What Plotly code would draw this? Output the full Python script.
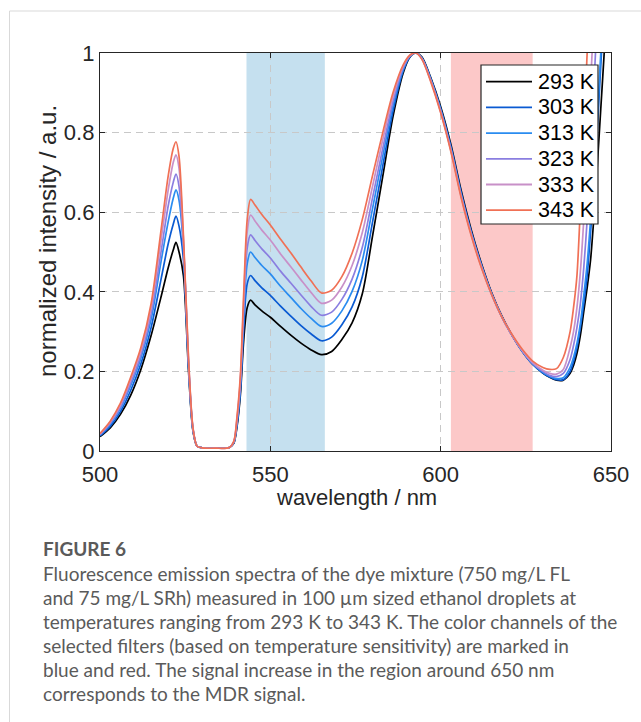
import plotly.graph_objects as go

# ---------------- data ----------------
wavelength = [500, 503, 506, 509, 512, 515, 518, 520, 521.5, 522.3,
              523.2, 524.5, 526, 527.3, 528.5, 530, 534, 538, 539.3, 540.2,
              541.2, 542.2, 543.2, 544.2, 545.5, 547.5, 550, 553, 556, 559,
              562, 565, 568, 571, 574, 577, 580, 583, 586, 589,
              591, 592.7, 594.5, 597, 600, 603, 606, 609, 612, 615,
              618, 621, 624, 627, 630, 632, 634, 636, 638, 639,
              640, 641, 642, 643, 644, 645, 646, 647, 648, 649,
              650]

labels = ["293 K", "303 K", "313 K", "323 K", "333 K", "343 K"]

i_293 = [0.036, 0.058, 0.092, 0.140, 0.205, 0.290, 0.390, 0.460, 0.505, 0.524,
         0.500, 0.440, 0.200, 0.050, 0.012, 0.008, 0.007, 0.009, 0.020, 0.060,
         0.140, 0.280, 0.360, 0.379, 0.367, 0.352, 0.336, 0.313, 0.291, 0.271,
         0.254, 0.242, 0.250, 0.280, 0.322, 0.395, 0.540, 0.690, 0.840, 0.950,
         0.990, 1.000, 0.990, 0.940, 0.865, 0.770, 0.655, 0.555, 0.470, 0.397,
         0.338, 0.290, 0.250, 0.218, 0.196, 0.185, 0.178, 0.178, 0.195, 0.215,
         0.245, 0.290, 0.350, 0.410, 0.480, 0.590, 0.720, 0.860, 1.000, 1.150,
         1.300]
i_303 = [0.038, 0.062, 0.099, 0.152, 0.219, 0.310, 0.435, 0.520, 0.570, 0.590,
         0.565, 0.480, 0.210, 0.052, 0.012, 0.008, 0.007, 0.009, 0.021, 0.065,
         0.150, 0.310, 0.420, 0.441, 0.428, 0.410, 0.391, 0.364, 0.339, 0.315,
         0.294, 0.277, 0.286, 0.317, 0.362, 0.438, 0.575, 0.716, 0.854, 0.955,
         0.991, 1.000, 0.988, 0.938, 0.860, 0.765, 0.650, 0.550, 0.467, 0.395,
         0.337, 0.290, 0.250, 0.218, 0.196, 0.186, 0.179, 0.179, 0.200, 0.225,
         0.260, 0.310, 0.370, 0.440, 0.550, 0.670, 0.810, 0.970, 1.120, 1.300,
         1.500]
i_313 = [0.040, 0.067, 0.107, 0.164, 0.233, 0.330, 0.480, 0.575, 0.635, 0.656,
         0.630, 0.510, 0.215, 0.054, 0.012, 0.008, 0.007, 0.009, 0.022, 0.070,
         0.160, 0.340, 0.470, 0.500, 0.486, 0.466, 0.445, 0.414, 0.386, 0.358,
         0.333, 0.313, 0.321, 0.352, 0.401, 0.479, 0.609, 0.741, 0.868, 0.959,
         0.992, 1.000, 0.987, 0.936, 0.858, 0.760, 0.645, 0.547, 0.465, 0.394,
         0.336, 0.290, 0.250, 0.219, 0.198, 0.188, 0.182, 0.184, 0.210, 0.235,
         0.270, 0.320, 0.390, 0.470, 0.580, 0.700, 0.840, 1.000, 1.150, 1.350,
         1.550]
i_323 = [0.041, 0.070, 0.111, 0.171, 0.242, 0.345, 0.505, 0.615, 0.675, 0.696,
         0.665, 0.520, 0.220, 0.055, 0.012, 0.008, 0.007, 0.009, 0.023, 0.075,
         0.170, 0.360, 0.510, 0.543, 0.529, 0.508, 0.485, 0.452, 0.422, 0.392,
         0.363, 0.341, 0.349, 0.381, 0.432, 0.512, 0.636, 0.760, 0.878, 0.963,
         0.993, 1.000, 0.986, 0.934, 0.855, 0.758, 0.642, 0.545, 0.463, 0.393,
         0.336, 0.290, 0.251, 0.220, 0.200, 0.190, 0.187, 0.195, 0.230, 0.265,
         0.310, 0.370, 0.460, 0.580, 0.730, 0.920, 1.100, 1.300, 1.500, 1.700,
         1.900]
i_333 = [0.043, 0.073, 0.116, 0.179, 0.252, 0.360, 0.535, 0.655, 0.725, 0.744,
         0.710, 0.530, 0.225, 0.056, 0.012, 0.008, 0.007, 0.009, 0.024, 0.080,
         0.180, 0.380, 0.550, 0.593, 0.578, 0.555, 0.530, 0.495, 0.463, 0.430,
         0.398, 0.371, 0.379, 0.412, 0.466, 0.549, 0.665, 0.782, 0.890, 0.967,
         0.994, 1.000, 0.985, 0.932, 0.852, 0.755, 0.640, 0.543, 0.461, 0.392,
         0.336, 0.290, 0.252, 0.222, 0.203, 0.195, 0.193, 0.205, 0.260, 0.300,
         0.360, 0.450, 0.580, 0.740, 0.920, 1.100, 1.300, 1.500, 1.700, 1.900,
         2.100]
i_343 = [0.044, 0.075, 0.120, 0.185, 0.260, 0.370, 0.560, 0.690, 0.760, 0.777,
         0.740, 0.540, 0.230, 0.058, 0.012, 0.008, 0.007, 0.009, 0.025, 0.085,
         0.190, 0.400, 0.580, 0.632, 0.618, 0.594, 0.568, 0.532, 0.498, 0.462,
         0.427, 0.397, 0.404, 0.438, 0.497, 0.582, 0.692, 0.800, 0.900, 0.970,
         0.995, 1.000, 0.984, 0.930, 0.850, 0.752, 0.637, 0.540, 0.459, 0.392,
         0.336, 0.292, 0.255, 0.226, 0.210, 0.205, 0.207, 0.235, 0.300, 0.360,
         0.440, 0.610, 0.800, 1.000, 1.200, 1.400, 1.600, 1.800, 2.000, 2.200,
         2.400]

series = [i_293, i_303, i_313, i_323, i_333, i_343]

blue_band = [543, 566]   # nm
red_band = [603, 627]    # nm

x_ticks = [500, 550, 600, 650]
y_ticks = [0, 0.2, 0.4, 0.6, 0.8, 1]
y_tick_text = ["0", "0.2", "0.4", "0.6", "0.8", "1"]

caption_title = "FIGURE 6"
caption_lines = [
    "Fluorescence emission spectra of the dye mixture (750 mg/L FL",
    "and 75 mg/L SRh) measured in 100 µm sized ethanol droplets at",
    "temperatures ranging from 293 K to 343 K. The color channels of the",
    "selected filters (based on temperature sensitivity) are marked in",
    "blue and red. The signal increase in the region around 650 nm",
    "corresponds to the MDR signal.",
]

# ---------------- styling ----------------
colors = ["#000000", "#0a5ad2", "#2a8cf0", "#8a7ee0", "#c890c8", "#f07055"]
W, H = 641, 722
PL, PR, PT, PB = 100, 611, 53, 451


def xp(px):
    return (px - PL) / (PR - PL)


def yp(py):
    return (PB - py) / (PB - PT)


FONT = "Liberation Sans, Arial, sans-serif"
CAP_FONT = "Lato, Open Sans, sans-serif"
INK = "#262626"

fig = go.Figure()
for lab, vals, col in zip(labels, series, colors):
    fig.add_trace(go.Scatter(
        x=wavelength, y=vals, mode="lines", name=lab, showlegend=False,
        line=dict(color=col, width=1.7, shape="spline", smoothing=0.8),
    ))

shapes = [
    dict(type="rect", xref="x", yref="paper", x0=blue_band[0], x1=blue_band[1],
         y0=0, y1=1, fillcolor="#c5e0ef", line=dict(width=0), layer="below"),
    dict(type="rect", xref="x", yref="paper", x0=red_band[0], x1=red_band[1],
         y0=0, y1=1, fillcolor="#fcc8c8", line=dict(width=0), layer="below"),
    # card border
    dict(type="line", xref="paper", yref="paper", x0=xp(9.5), x1=xp(W + 5),
         y0=yp(11), y1=yp(11), line=dict(color="#d9d9d9", width=1)),
    dict(type="line", xref="paper", yref="paper", x0=xp(9.5), x1=xp(9.5),
         y0=yp(11), y1=yp(H + 5), line=dict(color="#d9d9d9", width=1)),
    # legend box
    dict(type="rect", xref="paper", yref="paper", x0=xp(481), x1=xp(598),
         y0=yp(224), y1=yp(65), fillcolor="white",
         line=dict(color=INK, width=1.2)),
]

annotations = [
    dict(text="normalized intensity / a.u.", xref="paper", yref="paper",
         x=xp(47), y=yp(241), textangle=-90, showarrow=False,
         xanchor="center", yanchor="middle",
         font=dict(family=FONT, size=24, color=INK)),
    dict(text="wavelength / nm", xref="paper", yref="paper",
         x=xp(356), y=yp(497), showarrow=False,
         xanchor="center", yanchor="middle",
         font=dict(family=FONT, size=22, color=INK)),
    dict(text="<b>" + caption_title + "</b>", xref="paper", yref="paper",
         x=xp(41), y=yp(548), showarrow=False, xanchor="left", yanchor="middle",
         font=dict(family=CAP_FONT, size=19, color="#5a5a5a")),
]
for k, line in enumerate(caption_lines):
    annotations.append(dict(
        text=line, xref="paper", yref="paper", x=xp(41), y=yp(573 + 24 * k),
        showarrow=False, xanchor="left", yanchor="middle",
        font=dict(family=CAP_FONT, size=19, color="#5a5a5a")))

# legend entries (sample line + label)
row0, row_step = 81.7, 25.7
for k, (lab, col) in enumerate(zip(labels, colors)):
    ry = row0 + row_step * k
    shapes.append(dict(type="line", xref="paper", yref="paper",
                       x0=xp(486), x1=xp(532), y0=yp(ry), y1=yp(ry),
                       line=dict(color=col, width=1.8)))
    annotations.append(dict(text=lab, xref="paper", yref="paper",
                            x=xp(536), y=yp(ry), showarrow=False,
                            xanchor="left", yanchor="middle",
                            font=dict(family=FONT, size=21.5, color="#000000")))

axis_common = dict(
    showline=True, linecolor=INK, linewidth=1.3, mirror="ticks",
    ticks="inside", ticklen=5, tickwidth=1.2, tickcolor=INK,
    showgrid=True, gridcolor="#c8c8c8", gridwidth=1.2, griddash="7px,5px",
    zeroline=False, tickfont=dict(family=FONT, size=22, color=INK),
)

fig.update_layout(
    width=W, height=H,
    margin=dict(l=PL, r=W - PR, t=PT, b=H - PB, autoexpand=False),
    paper_bgcolor="white", plot_bgcolor="rgba(0,0,0,0)",
    xaxis=dict(range=[500, 650], tickvals=x_ticks, ticktext=[str(v) for v in x_ticks],
               ticklabelstandoff=3, **axis_common),
    yaxis=dict(range=[0, 1], tickvals=y_ticks, ticktext=y_tick_text, **axis_common),
    shapes=shapes, annotations=annotations,
    showlegend=False,
)

fig.write_html("out.html")
